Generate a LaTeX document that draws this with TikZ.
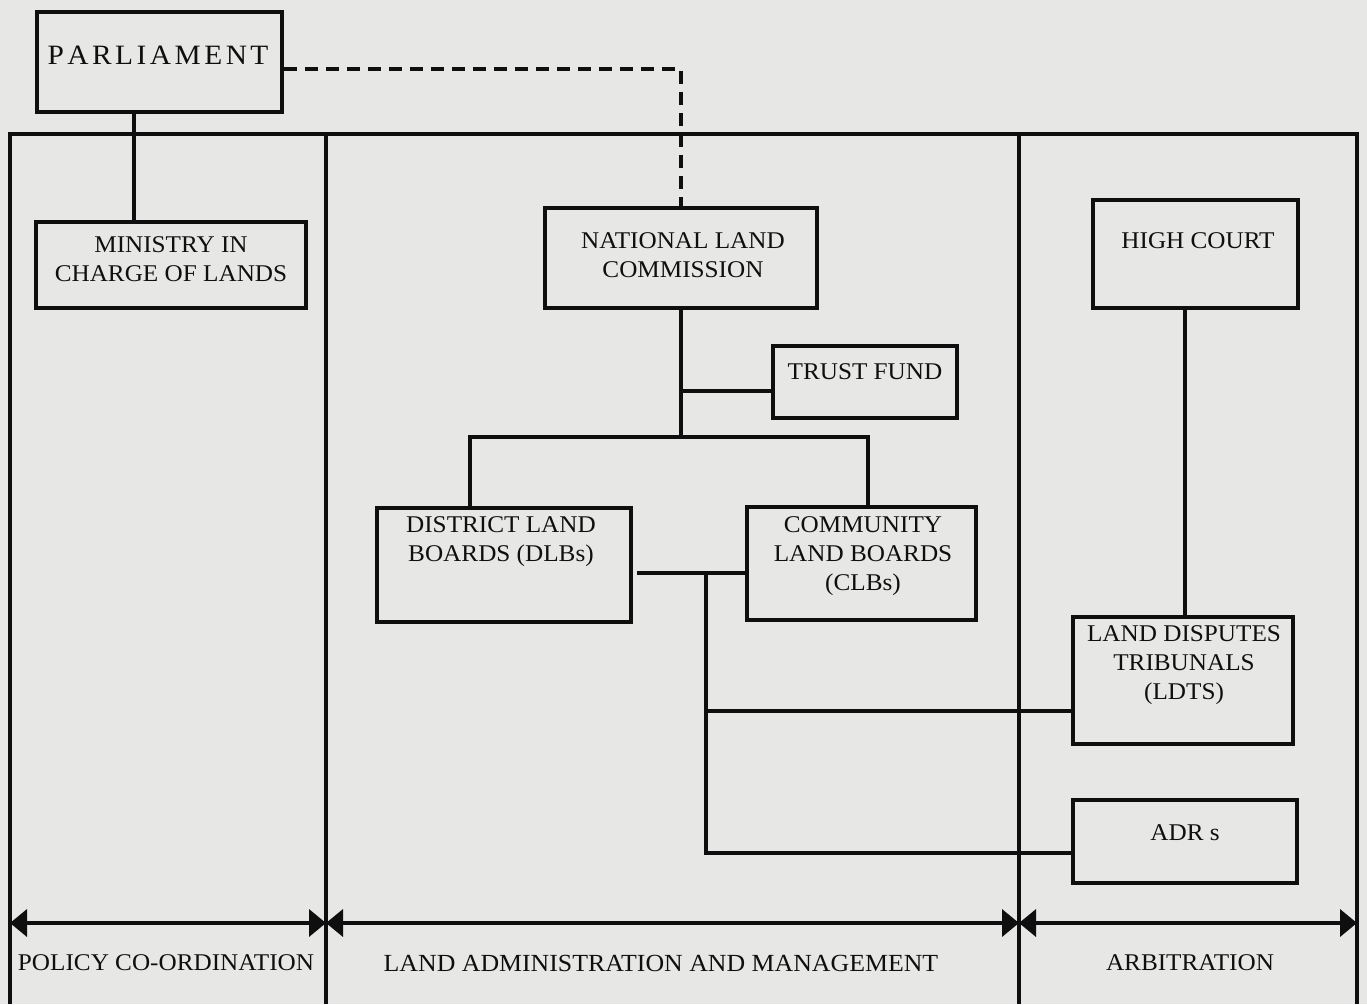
\documentclass[tikz,border=0pt]{standalone}
\usepackage{fontspec}
\setmainfont{Liberation Serif}[FakeStretch=1.05]
\usetikzlibrary{arrows.meta,calc}
\definecolor{paper}{RGB}{231,231,230}
\definecolor{ink}{RGB}{15,15,15}
\newcommand{\lsp}{\kern3.5pt}
\tikzset{
  box/.style={draw=ink, line width=3.6pt, rectangle, inner sep=0pt},
  txt/.style={text=ink, align=center, inner sep=0pt, font=\fontsize{24}{29}\selectfont},
  conn/.style={draw=ink, line width=3.6pt},
  dashconn/.style={conn, dash pattern=on 13pt off 8pt},
  dimarrow/.style={conn, {Triangle[length=17pt,width=27pt]}-{Triangle[length=17pt,width=27pt]}},
}
\begin{document}
\begin{tikzpicture}[x=1pt,y=-1pt]
\fill[paper] (0,0) rectangle (1367,1004);
\useasboundingbox (0,0) rectangle (1367,1004);

% frame
\coordinate (fTL) at (10,134);
\coordinate (fTR) at (1357,134);
\coordinate (fBL) at (10,1004);
\coordinate (fBR) at (1357,1004);
\coordinate (d1T) at (326,134);
\coordinate (d1B) at (326,1004);
\coordinate (d2T) at (1019,134);
\coordinate (d2B) at (1019,1004);
\draw[conn] (fBL) -- (fTL) -- (fTR) -- (fBR);
\draw[conn] (d1T) -- (d1B);
\draw[conn] (d2T) -- (d2B);

% boxes
\node[box, minimum width=245pt, minimum height=100pt] (parl) at (159.5,62) {};
\node[txt, font=\fontsize{28}{32}\selectfont] (parlT) at (158,55) {P\lsp A\lsp R\lsp L\lsp I\lsp A\lsp M\lsp E\lsp N\lsp T};

\node[box, minimum width=270pt, minimum height=86pt] (min) at (171,265) {};
\node[txt] (minT) at (171,259) {MINISTRY IN\\CHARGE OF LANDS};

\node[box, minimum width=272pt, minimum height=100pt] (nlc) at (681,258) {};
\node[txt] (nlcT) at (683,255) {NATIONAL LAND\\COMMISSION};

\node[box, minimum width=205pt, minimum height=108pt] (hc) at (1195.5,254) {};
\node[txt] (hcT) at (1198,241) {HIGH COURT};

\node[box, minimum width=184pt, minimum height=72pt] (trust) at (865,382) {};
\node[txt] (trustT) at (865,372) {TRUST FUND};

\node[box, minimum width=254pt, minimum height=114pt] (dlb) at (504,565) {};
\node[txt] (dlbT) at (501,542) {DISTRICT LAND\\BOARDS (DLBs)};

\node[box, minimum width=229pt, minimum height=113pt] (clb) at (861.5,563.5) {};
\node[txt] (clbT) at (863,556) {COMMUNITY\\LAND BOARDS\\(CLBs)};

\node[box, minimum width=220pt, minimum height=127pt] (ldt) at (1183,680.5) {};
\node[txt] (ldtT) at (1184,665) {LAND DISPUTES\\TRIBUNALS\\(LDTS)};

\node[box, minimum width=224pt, minimum height=83pt] (adr) at (1185,841.5) {};
\node[txt] (adrT) at (1185,833) {ADR s};

% connectors
\coordinate (px) at (134,0);
\coordinate (dy) at (0,69);
\draw[conn] (parl.south -| px) -- (min.north -| px);
\draw[dashconn] (parl.east |- dy) -| (nlc.north);

\coordinate (j1) at (681,437);
\coordinate (ty) at (0,391);
\coordinate (jl) at (470,437);
\coordinate (jr) at (868,437);
\draw[conn] (nlc.south) -- (j1);
\draw[conn] (j1 |- ty) -- (trust.west |- ty);
\draw[conn] (dlb.north -| jl) -- (jl) -- (jr) -- (clb.north -| jr);

\coordinate (hy) at (637,573);
\coordinate (v1) at (706,573);
\coordinate (v2) at (706,853);
\coordinate (ly) at (0,711);
\draw[conn] (hy) -- (clb.west |- hy);
\draw[conn] (v1) -- (v2) -- (adr.west |- v2);
\draw[conn] (v1 |- ly) -- (ldt.west |- ly);

\coordinate (hx) at (1185,0);
\draw[conn] (hc.south -| hx) -- (ldt.north -| hx);

% section arrows
\coordinate (ay) at (0,923);
\draw[dimarrow] (fTL |- ay) -- (d1T |- ay);
\draw[dimarrow] (d1T |- ay) -- (d2T |- ay);
\draw[dimarrow] (d2T |- ay) -- (fTR |- ay);

% section labels
\node[txt] (lab1) at (166,963) {POLICY CO-ORDINATION};
\node[txt, font=\fontsize{24.6}{29}\selectfont] (lab2) at (661,963) {LAND ADMINISTRATION AND MANAGEMENT};
\node[txt] (lab3) at (1190,963) {ARBITRATION};
\end{tikzpicture}
\end{document}
